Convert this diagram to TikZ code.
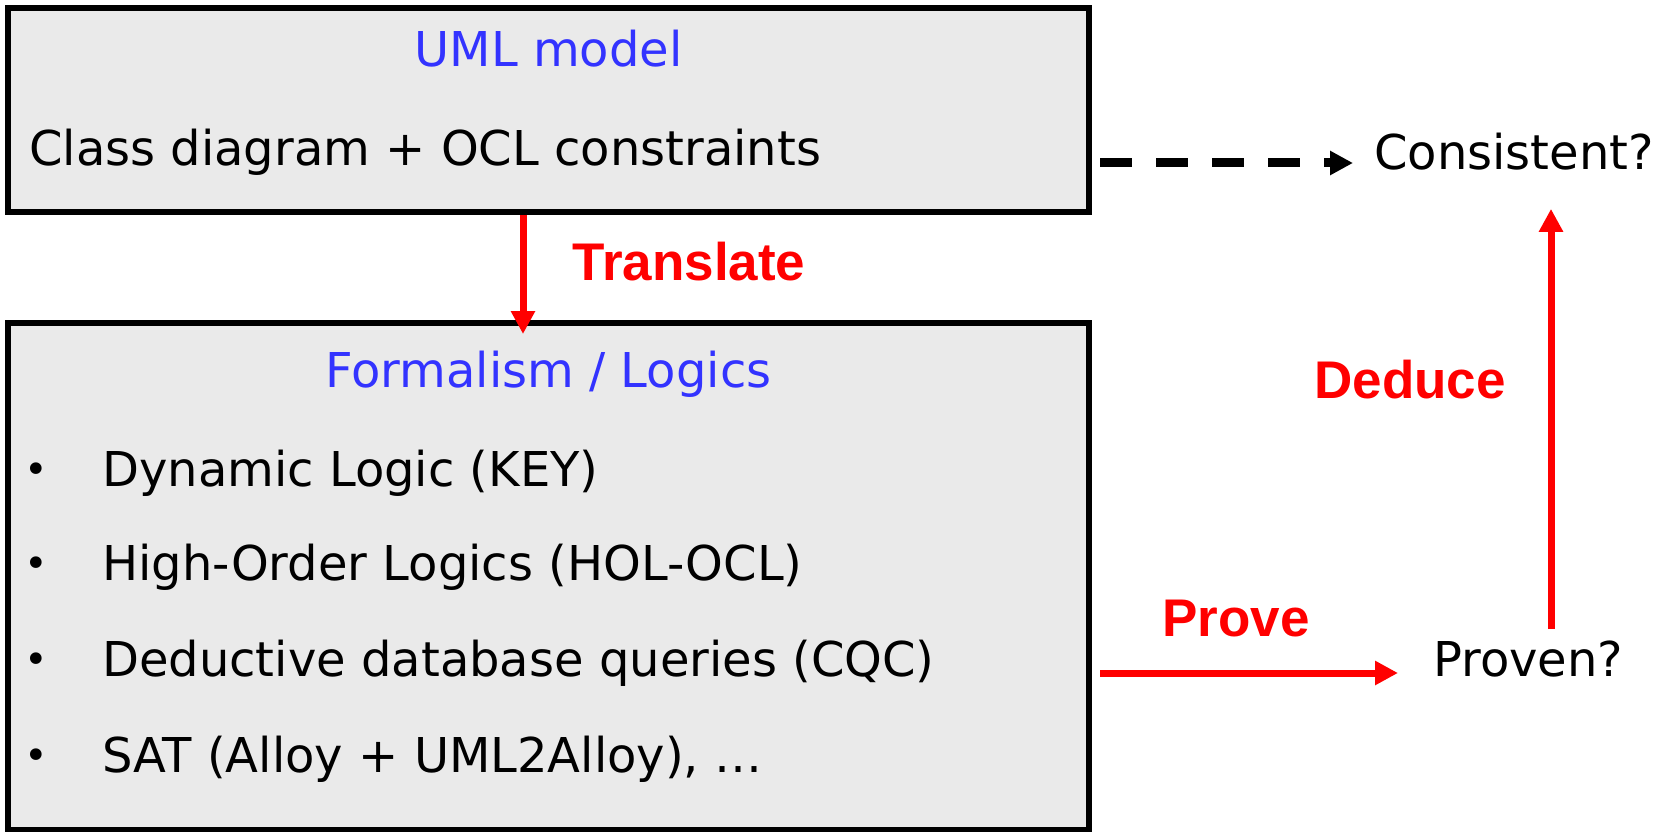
\documentclass[tikz,border=0pt]{standalone}
\usepackage{fontspec}
\setmainfont{DejaVu Sans}
\newfontfamily\lblfont{Liberation Sans}
\usetikzlibrary{arrows.meta,calc}
\definecolor{umlblue}{HTML}{3333FF}
\definecolor{boxgray}{HTML}{EAEAEA}

\begin{document}
\begin{tikzpicture}[x=1pt, y=-1pt,
  box/.style={draw, line width=6pt, fill=boxgray, inner sep=0pt},
  txt/.style={inner sep=0pt, anchor=base west, font=\fontsize{48}{56}\selectfont},
  ttl/.style={txt, anchor=base, text=umlblue},
  bul/.style={inner sep=0pt, anchor=base west, font=\fontsize{40}{46}\selectfont},
  lbl/.style={inner sep=0pt, anchor=base, text=red, font=\fontsize{53}{60}\selectfont\lblfont\bfseries},
  redarrow/.style={red, line width=7pt, -{Triangle[length=23pt,width=23pt]}}]
\useasboundingbox (0,0) rectangle (1674,832);
\node[box, minimum width=1081pt, minimum height=204pt] (uml) at (548.5,110) {};
\node[ttl] (umltitle) at (548.5,67) {UML model};
\node[txt] (umlbody) at (29,165) {Class diagram + OCL constraints};
\node[box, minimum width=1081pt, minimum height=507pt] (formal) at (548.5,576.5) {};
\node[ttl] (formaltitle) at (548.5,387) {Formalism / Logics};
\foreach \y/\entry [count=\i] in {486/Dynamic Logic (KEY), 580/High-Order Logics (HOL-OCL), 676/Deductive database queries (CQC), 772/{SAT (Alloy + UML2Alloy), …}} {
  \node[bul] (dot\i) at (24,\y-3) {•};
  \node[txt] (item\i) at (102,\y) {\entry};
}
\node[txt] (cons) at (1374,170) {Consistent?};
\node[txt] (proven) at (1433,676) {Proven?};
\node[lbl] (translbl) at (689,280) {Translate};
\node[lbl] (deducelbl) at (1410,398) {Deduce};
\node[lbl] (provelbl) at (1236,636) {Prove};
\coordinate (dedx) at (1551,0);
\draw[redarrow] ($(uml.south)+(-25.5,0)$) -- ($(formal.north)+(-25.5,14)$);
\draw[line width=9pt, dash pattern=on 32pt off 24pt, -{Triangle[length=23pt,width=23pt]}]
  ($(uml.east |- cons.base)+(8,-7)$) -- ($(cons.base west)+(-21,-7)$);
\draw[redarrow] ($(formal.east |- proven.base)+(8,-3)$) -- ($(proven.base west)+(-35,-3)$);
\draw[redarrow] ($(proven.north -| dedx)+(0,-11)$) -- ($(cons.south -| dedx)+(0,38)$);
\end{tikzpicture}
\end{document}
